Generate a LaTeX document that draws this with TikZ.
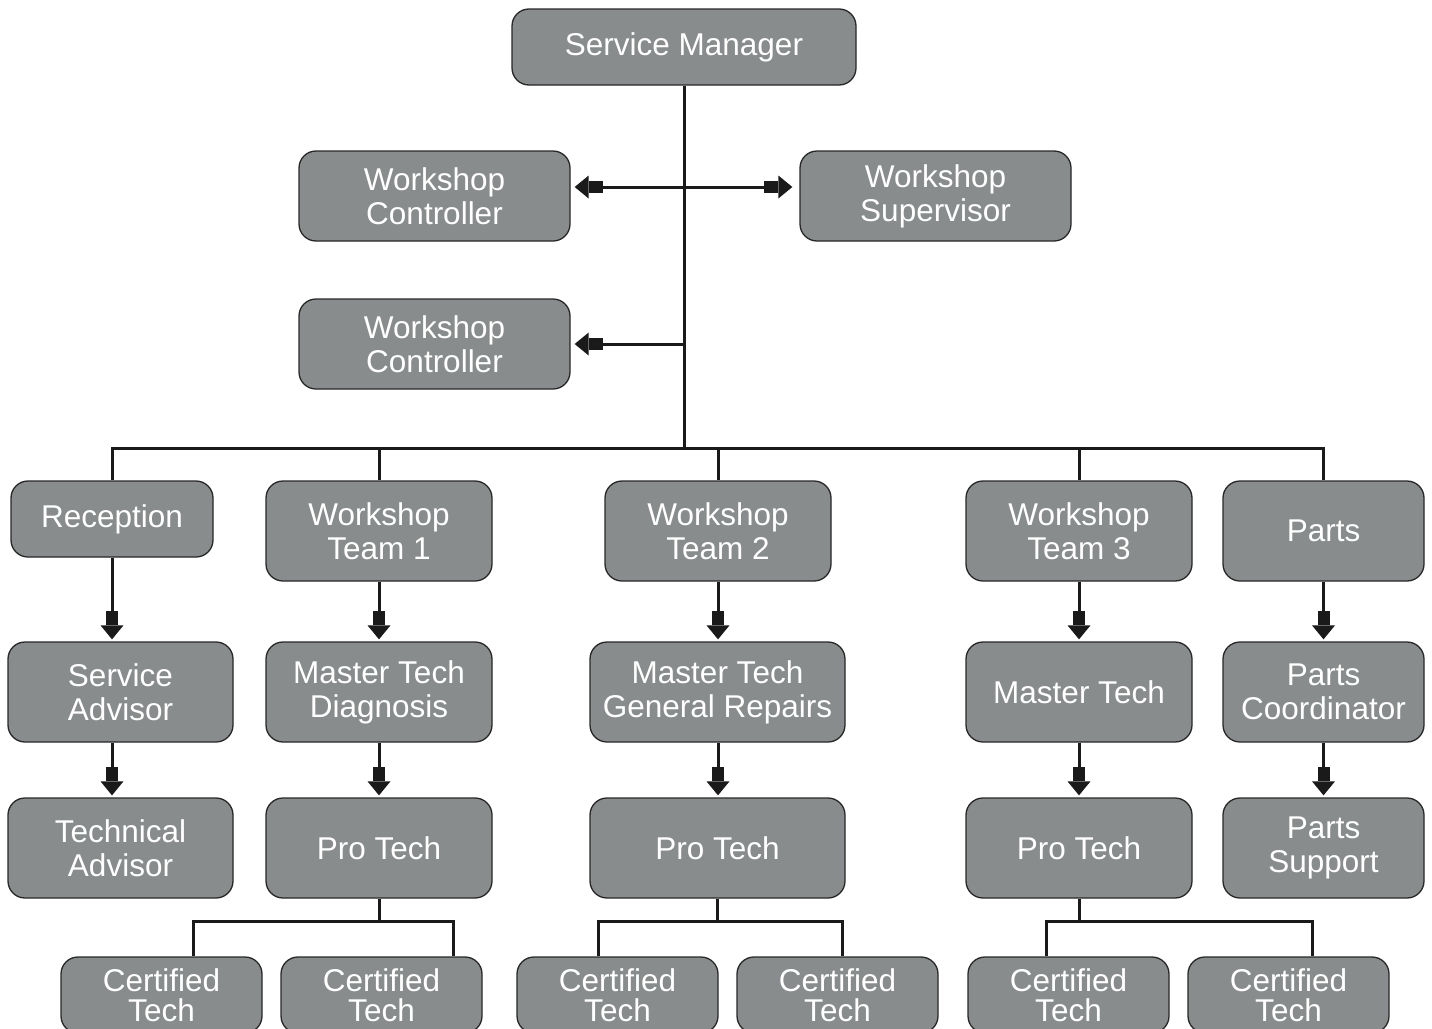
\documentclass[tikz,border=0pt]{standalone}
\usepackage{fontspec}
\setmainfont{Liberation Sans}
\usetikzlibrary{arrows.meta}
\definecolor{boxfill}{RGB}{137,140,140}
\definecolor{linec}{RGB}{26,26,26}
\definecolor{boxline}{RGB}{40,40,40}
\begin{document}
\begin{tikzpicture}[x=1pt,y=-1pt,
  box/.style={draw=boxline, line width=1.3pt, fill=boxfill, rounded corners=17pt,
    text=white, align=center, font=\fontsize{31.5}{34}\selectfont, inner sep=0pt},
  conn/.style={draw=linec, line width=3pt, line join=miter},
  arr/.style={conn, -{Rectangle[length=14pt,width=12pt,line width=0pt,sep=0pt]Triangle[length=14pt,width=23pt,line width=0pt,sep=0pt]}},
  w271/.style={minimum width=271pt, minimum height=90pt},
  w226/.style={minimum width=226pt, minimum height=100pt},
  w201/.style={minimum width=201pt, minimum height=100pt},
  w225/.style={minimum width=225pt, minimum height=100pt},
  w255/.style={minimum width=255pt, minimum height=100pt},
  cert/.style={minimum width=201pt, minimum height=76pt, font=\fontsize{31.5}{30}\selectfont},
]
\useasboundingbox (0,0) rectangle (1432,1028);
\clip (0,0) rectangle (1432,1028);
\fill[white] (0,0) rectangle (1432,1028);

% top
\node[box, minimum width=344pt, minimum height=76pt] (sm) at (684,47) {Service Manager};
\node[box, w271] (wc1) at (434.5,196) {Workshop\\Controller};
\node[box, w271] (ws) at (935.5,196) {Workshop\\Supervisor};
\node[box, w271] (wc2) at (434.5,344) {Workshop\\Controller};

% row 1
\node[box, minimum width=202pt, minimum height=76pt] (rec) at (112,519) {Reception};
\node[box, w226] (t1) at (379,531) {Workshop\\Team 1};
\node[box, w226] (t2) at (718,531) {Workshop\\Team 2};
\node[box, w226] (t3) at (1079,531) {Workshop\\Team 3};
\node[box, w201] (parts) at (1323.5,531) {Parts};

% row 2
\node[box, w225] (sa) at (120.5,692) {Service\\Advisor};
\node[box, w226] (mtd) at (379,692) {Master Tech\\Diagnosis};
\node[box, w255] (mtg) at (717.5,692) {Master Tech\\General Repairs};
\node[box, w226] (mt) at (1079,692) {Master Tech};
\node[box, w201] (pc) at (1323.5,692) {Parts\\Coordinator};

% row 3
\node[box, w225] (ta) at (120.5,848) {Technical\\Advisor};
\node[box, w226] (pt1) at (379,848) {Pro Tech};
\node[box, w255] (pt2) at (717.5,848) {Pro Tech};
\node[box, w226] (pt3) at (1079,848) {Pro Tech};
\node[box, w201] (ps) at (1323.5,848) {Parts\\Support};

% row 4
\node[box, cert] (c1) at (161.5,995) {Certified\\Tech};
\node[box, cert] (c2) at (381.5,995) {Certified\\Tech};
\node[box, cert] (c3) at (617.5,995) {Certified\\Tech};
\node[box, cert] (c4) at (837.5,995) {Certified\\Tech};
\node[box, cert] (c5) at (1068.5,995) {Certified\\Tech};
\node[box, cert] (c6) at (1288.5,995) {Certified\\Tech};

% trunk and bus
\coordinate (bus) at (684,448);
\coordinate (j1) at (684,187);
\draw[conn] (sm.south) -- (bus);
\draw[conn] (rec.north) |- (parts.north |- bus) -- (parts.north);
\draw[conn] (t1.north) -- (t1.north |- bus);
\draw[conn] (t2.north) -- (t2.north |- bus);
\draw[conn] (t3.north) -- (t3.north |- bus);

% side arrows
\draw[arr, shorten >=4pt] (j1) -- (j1 -| wc1.east);
\draw[arr, shorten >=7pt] (j1) -- (j1 -| ws.west);
\draw[arr, shorten >=4pt] (sm.south |- wc2.east) -- (wc2.east);

% column arrows
\draw[arr, shorten >=2pt] (rec.south) -- (rec.south |- sa.north);
\draw[arr, shorten >=2pt] (rec.south |- sa.south) -- (rec.south |- ta.north);
\draw[arr, shorten >=2pt] (t1.south) -- (mtd.north);
\draw[arr, shorten >=2pt] (mtd.south) -- (pt1.north);
\draw[arr, shorten >=2pt] (t2.south) -- (t2.south |- mtg.north);
\draw[arr, shorten >=2pt] (t2.south |- mtg.south) -- (t2.south |- pt2.north);
\draw[arr, shorten >=2pt] (t3.south) -- (mt.north);
\draw[arr, shorten >=2pt] (mt.south) -- (pt3.north);
\draw[arr, shorten >=2pt] (parts.south) -- (pc.north);
\draw[arr, shorten >=2pt] (pc.south) -- (ps.north);

% branches to certified techs
\coordinate (b1) at (379,921);
\coordinate (b2) at (717.5,921);
\coordinate (b3) at (1079,921);
\draw[conn] (pt1.south) -- (b1);
\draw[conn] ([xshift=31.5pt]c1.north) |- (b1) -| ([xshift=71.5pt]c2.north);
\draw[conn] (pt2.south) -- (b2);
\draw[conn] ([xshift=-19.5pt]c3.north) |- (b2) -| ([xshift=4.5pt]c4.north);
\draw[conn] (pt3.south) -- (b3);
\draw[conn] ([xshift=-22.5pt]c5.north) |- (b3) -| ([xshift=23.5pt]c6.north);
\end{tikzpicture}
\end{document}
